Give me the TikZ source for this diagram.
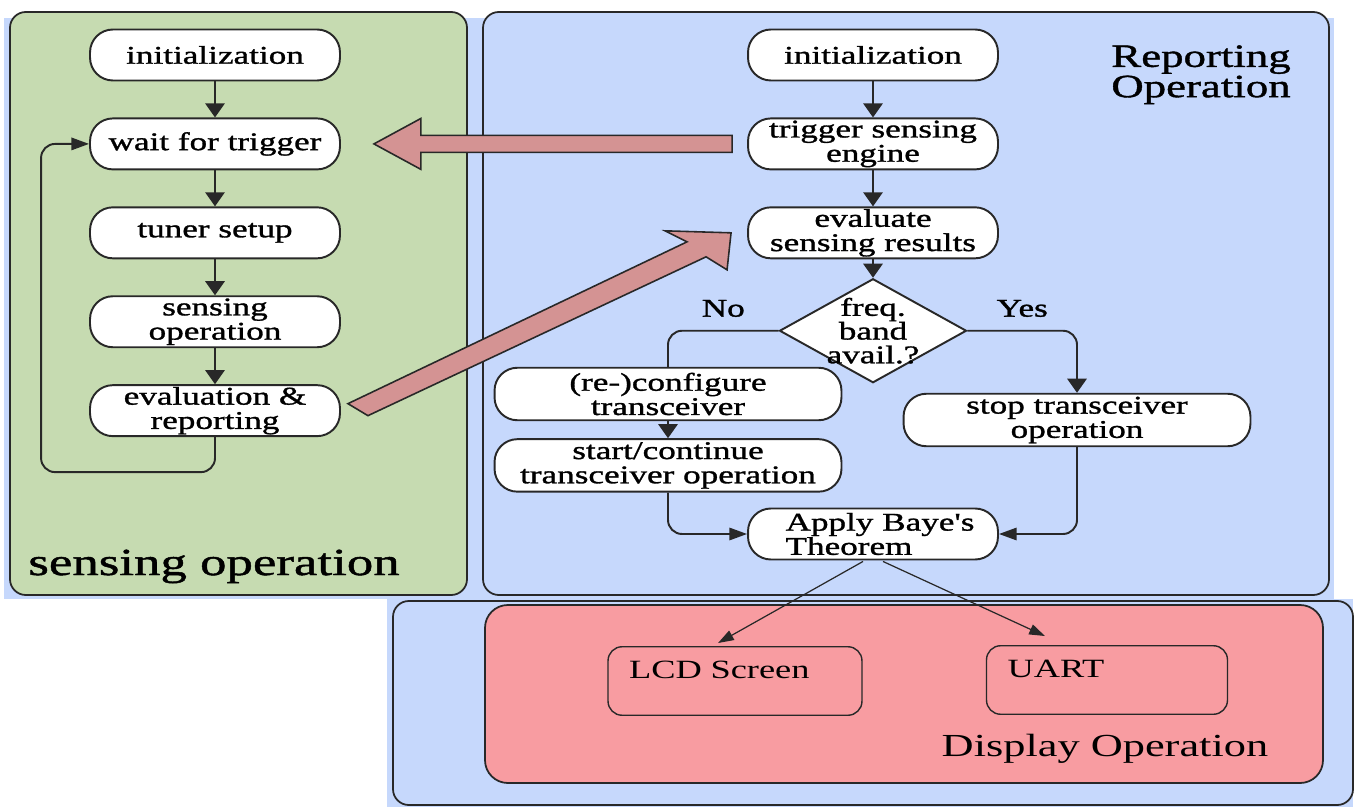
\documentclass[tikz,border=0pt]{standalone}
\usepackage{fontspec}
\setmainfont{Liberation Serif}[FakeStretch=1.38]
\newfontfamily\flowfont{Liberation Serif}[FakeStretch=1.38,FakeBold=1.2]
\usetikzlibrary{shapes.geometric,arrows.meta,calc,positioning}
\definecolor{sensegreen}{RGB}{198,219,177}
\definecolor{repblue}{RGB}{198,216,252}
\definecolor{bigarrowpink}{RGB}{212,147,147}
\definecolor{disppink}{RGB}{248,156,161}
\definecolor{edgegray}{RGB}{40,40,40}

\begin{document}
\begin{tikzpicture}[x=0.02cm,y=-0.02cm,node distance=0.72cm,
	panel/.style={draw=edgegray,line width=1pt,rounded corners=9pt},
	proc/.style={draw=edgegray,fill=white,line width=1.1pt,rounded corners=13pt,minimum width=5cm,minimum height=1.02cm,inner sep=1pt,align=center,font=\flowfont\fontsize{14.5}{13.8}\selectfont},
	wideproc/.style={proc,minimum width=6.94cm,minimum height=1.05cm},
	decision/.style={draw=edgegray,fill=white,line width=1.1pt,diamond,minimum width=3.74cm,minimum height=2.08cm,inner sep=0pt},
	dispbox/.style={draw=edgegray,line width=0.8pt,rounded corners=8pt,align=left,inner xsep=0.42cm,inner ysep=3pt,text height=15pt,text depth=18pt,font=\fontsize{15}{16}\selectfont},
	flow/.style={draw=edgegray,line width=1.1pt,rounded corners=8pt},
	vtip/.style={-{Triangle[length=8pt,width=11pt]}},
	htip/.style={-{Triangle[length=10pt,width=7pt]}},
	thinarr/.style={draw=edgegray,line width=0.7pt,-{Triangle[length=9pt,width=6pt]}},
	bigarrow/.style={draw=edgegray,line width=0.9pt,fill=bigarrowpink,line join=miter}]
	\useasboundingbox (0,0) rectangle (1359,807);
	% panels
	\fill[repblue] (4,18) rectangle (1334,599);
	\fill[repblue] (387,599) rectangle (1353,807);
	\draw[panel,fill=sensegreen] (10,12) rectangle (467,595);
	\draw[panel,fill=repblue] (483,12) rectangle (1329,595);
	\draw[panel,fill=repblue] (393,601) rectangle (1353,805);
	\draw[panel,fill=disppink,rounded corners=13pt] (485,605) rectangle (1323,783);
	\node[anchor=base west,inner sep=0pt,font=\flowfont\fontsize{21.8}{24}\selectfont] (sensetitle) at (28,575) {sensing operation};
	\node[anchor=north,inner sep=0pt,align=center,font=\flowfont\fontsize{18.5}{16}\selectfont] (reptitle) at (1201,45) {Reporting\\Operation};
	\node[anchor=base,inner sep=0pt,font=\fontsize{18.3}{20}\selectfont] (disptitle) at (1105,756) {Display Operation};
	% sensing engine
	\node[proc] (sinit) at (215,55) {initialization};
	\node[proc,below=of sinit] (swait) {wait for trigger};
	\node[proc,below=of swait] (stuner) {tuner setup};
	\node[proc,below=of stuner] (ssense) {sensing\\operation};
	\node[proc,below=of ssense] (seval) {evaluation \&\\reporting};
	\coordinate (loopin) at ($(swait.west)+(-48,0)$);
	\draw[flow,vtip] (sinit) -- (swait);
	\draw[flow,vtip] (swait) -- (stuner);
	\draw[flow,vtip] (stuner) -- (ssense);
	\draw[flow,vtip] (ssense) -- (seval);
	\draw[flow,htip] (seval.south) -- ++(0,35) -| (loopin) -- (swait.west);
	% reporting
	\node[proc] (rinit) at (873,55) {initialization};
	\node[proc,below=of rinit] (rtrig) {trigger sensing\\engine};
	\node[proc,below=of rtrig] (reval) {evaluate\\sensing results};
	\node[decision,below=0.37cm of reval,label={[align=center,font=\flowfont\fontsize{14.5}{13.5}\selectfont]center:freq.\\band\\avail.?}] (avail) {};
	\node[wideproc] (rconf) at (668,394) {(re-)configure\\transceiver};
	\node[wideproc,below=0.34cm of rconf] (rstart) {start/continue\\transceiver operation};
	\node[wideproc] (rstop) at (1077,420) {stop transceiver\\operation};
	\node[proc,align=left] (rbayes) at (873,534) {\hspace*{8pt}Apply Baye's\\\hspace*{8pt}Theorem};
	\draw[flow,vtip] (rinit) -- (rtrig);
	\draw[flow,vtip] (rtrig) -- (reval);
	\draw[flow,vtip] (reval) -- (avail);
	\draw[flow] (avail.west) -| node[pos=0.25,above=4pt,font=\flowfont\fontsize{14.5}{13.5}\selectfont] (nolbl) {No} (rconf.north);
	\draw[flow,vtip] (avail.east) -| node[pos=0.25,above=4pt,font=\flowfont\fontsize{14.5}{13.5}\selectfont] (yeslbl) {Yes} (rstop.north);
	\draw[flow,vtip] (rconf) -- (rstart);
	\draw[flow,htip] (rstart.south) |- (rbayes.west);
	\draw[flow,htip] (rstop.south) |- (rbayes.east);
	% big arrows between the engines
	\coordinate (a1tip) at ($(swait.east)+(33,0)$);
	\coordinate (a1tail) at ($(rtrig.west)+(-15,0)$);
	\draw[bigarrow] ($(a1tail)+(0,-8.5)$) -- ($(a1tip)+(47,-8.5)$) -- ($(a1tip)+(47,-25.5)$) -- (a1tip) -- ($(a1tip)+(47,25.5)$) -- ($(a1tip)+(47,8.5)$) -- ($(a1tail)+(0,8.5)$) -- cycle;
	\coordinate (a2tip) at ($(reval.west)+(-16,0)$);
	\coordinate (a2tail) at (seval.east);
	\draw[bigarrow] ($(a2tail)+(7,-7)$) -- ($(a2tip)+(-44,9)$) -- ($(a2tip)+(-66,-2)$) -- (a2tip) -- ($(a2tip)+(-4,37)$) -- ($(a2tip)+(-25,24)$) -- ($(a2tail)+(27,5)$) -- cycle;
	% display
	\node[dispbox,text width=4.24cm] (dlcd) at (735,681) {LCD Screen};
	\node[dispbox,text width=3.98cm] (duart) at (1107,680) {UART};
	\draw[thinarr] ($(rbayes.south)+(-10,1)$) -- ($(dlcd.north)+(-17,-3)$);
	\draw[thinarr] ($(rbayes.south)+(10,1)$) -- ($(duart.north)+(-62,-9)$);
\end{tikzpicture}
\end{document}
